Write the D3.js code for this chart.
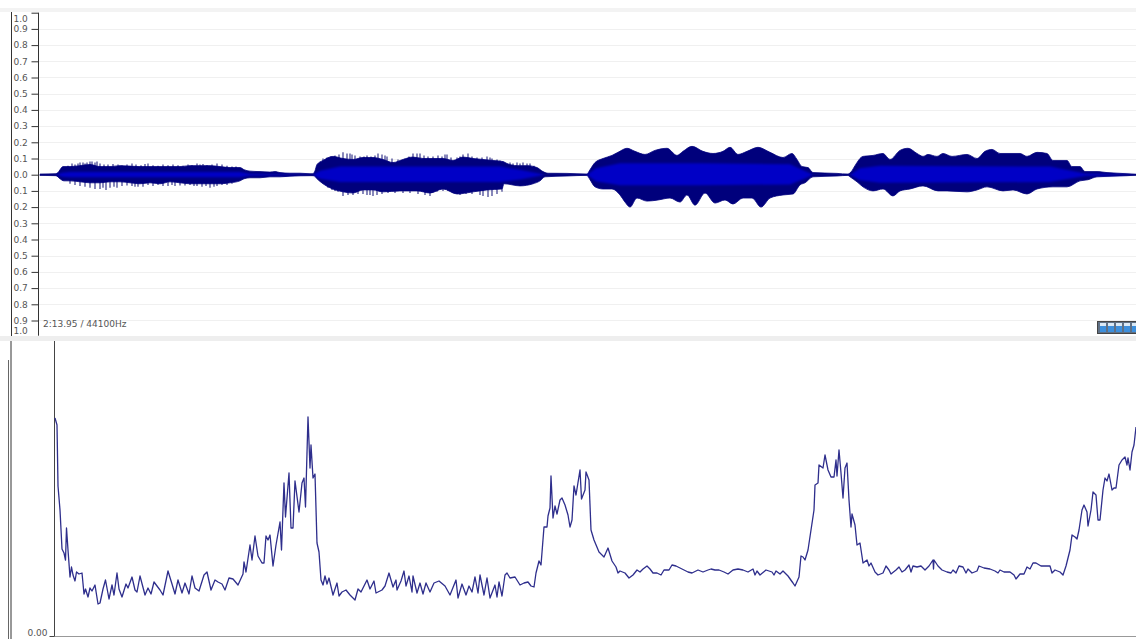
<!DOCTYPE html>
<html><head><meta charset="utf-8">
<script src="https://cdn.jsdelivr.net/npm/d3@7/dist/d3.min.js"></script>
<style>html,body{margin:0;padding:0;background:#fff;overflow:hidden}svg{display:block}text{font-family:"DejaVu Sans",sans-serif;font-size:9px;fill:#555}</style>
</head><body><svg id="c" width="1136" height="639"></svg>
<script>
const ampTicks=[1,.9,.8,.7,.6,.5,.4,.3,.2,.1,0,-.1,-.2,-.3,-.4,-.5,-.6,-.7,-.8,-.9,-1];
const durationLabel="2:13.95 / 44100Hz";
const pitchZeroLabel="0.00";
const topFrames=[40,56,58,60,63,70,80,90,100,110,120,130,140,150,160,170,180,190,200,210,220,230,240,244,250,260,270,275,280,290,300,310,313,315,317,323,333,343,353,363,373,383,393,403,413,423,433,443,453,463,473,483,493,503,507,517,527,537,543,548,567,587,590,595,603,612,618,627,635,645,655,667,677,683,692,703,713,723,730,738,747,758,770,783,792,797,802,808,813,837,848,852,855,863,873,883,890,900,908,917,923,928,937,943,952,967,977,985,992,1000,1010,1020,1027,1037,1047,1053,1067,1072,1080,1085,1097,1107,1127,1136];
const topAmp=[.004,.006,.013,.031,.05,.05,.056,.063,.05,.05,.056,.053,.05,.05,.05,.05,.05,.056,.056,.056,.05,.044,.044,.031,.022,.019,.016,.019,.013,.009,.009,.006,.006,.025,.063,.088,.113,.1,.094,.106,.106,.094,.075,.094,.109,.1,.1,.1,.088,.109,.1,.094,.088,.081,.069,.056,.056,.044,.019,.009,.008,.004,.031,.075,.1,.119,.138,.163,.144,.125,.15,.163,.119,.144,.175,.144,.131,.144,.169,.125,.144,.169,.138,.106,.131,.094,.05,.044,.013,.008,.004,.025,.056,.113,.119,.131,.094,.15,.163,.131,.113,.125,.113,.131,.113,.125,.1,.144,.156,.131,.131,.131,.113,.138,.131,.088,.088,.05,.05,.019,.019,.013,.006,.003];
const botFrames=[40,56,60,64,70,80,90,100,110,120,130,140,150,160,170,180,190,200,210,220,230,240,244,250,260,270,280,290,310,314,317,323,330,343,353,363,373,383,400,417,430,443,457,473,487,502,504,520,533,540,545,567,587,590,595,603,612,620,625,630,637,647,658,670,680,687,695,705,715,725,733,743,752,761,770,783,793,800,805,813,837,848,850,857,863,873,883,893,900,910,923,938,947,967,977,987,1003,1013,1027,1037,1053,1067,1080,1088,1097,1127,1136];
const botAmp=[-.004,-.006,-.025,-.038,-.038,-.044,-.05,-.05,-.044,-.044,-.05,-.056,-.05,-.056,-.044,-.05,-.056,-.056,-.056,-.056,-.05,-.038,-.025,-.019,-.019,-.013,-.013,-.009,-.006,-.006,-.025,-.056,-.081,-.106,-.113,-.094,-.094,-.106,-.1,-.1,-.113,-.088,-.119,-.106,-.094,-.088,-.056,-.069,-.056,-.038,-.013,-.008,-.004,-.031,-.075,-.088,-.088,-.125,-.169,-.2,-.144,-.163,-.156,-.144,-.169,-.125,-.188,-.113,-.175,-.156,-.181,-.144,-.144,-.2,-.144,-.125,-.119,-.063,-.05,-.013,-.008,-.004,-.013,-.044,-.075,-.1,-.088,-.131,-.1,-.088,-.069,-.1,-.1,-.106,-.094,-.075,-.1,-.094,-.119,-.088,-.075,-.075,-.038,-.031,-.013,-.006,-.003];
const coreFrames=[56,62,70,240,250,313,320,340,500,520,545,587,596,620,700,790,806,813,850,860,880,1050,1085,1136];
const coreTop=[0,.012,.016,.016,.006,0,.025,.05,.05,.03,0,0,.04,.07,.07,.065,.02,0,0,.04,.055,.05,.008,0];
const coreBot=[0,-.012,-.016,-.016,-.006,0,-.025,-.045,-.045,-.03,0,0,-.04,-.065,-.065,-.06,-.02,0,0,-.035,-.05,-.045,-.008,0];
const spikeUpFrames=[68,72,75,78,80,83,85,87,90,92,95,97,100,104,108,113,118,122,127,132,136,141,145,148,153,158,163,168,173,178,183,188,192,197,200,203,207,212,217,222,227,232,236,323,327,331,335,339,343,347,350,352,355,360,364,367,371,375,378,382,385,387,392,398,405,409,413,417,420,424,428,433,438,442,445,447,451,457,460,463,468,472,477,482,487,490,492,497,500,510,513,517,520,523,527,530,534];
const spikeUpAmp=[.056,.069,.063,.069,.075,.075,.069,.075,.081,.081,.075,.081,.069,.063,.063,.066,.063,.059,.063,.069,.063,.059,.066,.069,.059,.056,.063,.059,.063,.059,.056,.063,.059,.069,.063,.066,.059,.063,.069,.063,.056,.05,.05,.1,.106,.113,.119,.125,.138,.131,.131,.125,.119,.113,.113,.119,.113,.119,.131,.125,.119,.113,.1,.094,.1,.113,.131,.131,.131,.119,.113,.113,.119,.113,.125,.125,.106,.106,.113,.125,.131,.113,.106,.106,.113,.106,.1,.094,.088,.075,.069,.075,.069,.075,.069,.069,.056];
const spikeDnFrames=[70,75,80,85,90,95,100,103,106,110,114,117,122,127,132,135,138,143,148,153,158,163,168,172,175,180,185,190,194,197,202,206,210,214,217,222,227,232,328,332,335,338,343,348,353,358,363,367,370,373,377,382,388,395,403,410,418,425,430,437,443,448,453,460,466,472,480,483,488,492,497,502];
const spikeDnAmp=[-.056,-.063,-.069,-.075,-.081,-.088,-.088,-.081,-.094,-.081,-.075,-.081,-.069,-.066,-.069,-.075,-.075,-.075,-.063,-.069,-.063,-.069,-.069,-.063,-.069,-.066,-.066,-.063,-.069,-.069,-.075,-.069,-.081,-.075,-.069,-.063,-.063,-.056,-.081,-.094,-.1,-.106,-.131,-.125,-.125,-.119,-.119,-.125,-.125,-.131,-.125,-.119,-.113,-.113,-.113,-.113,-.119,-.125,-.131,-.106,-.1,-.1,-.113,-.125,-.119,-.119,-.125,-.131,-.138,-.131,-.119,-.106];
const pitchFrames=[55,57,58,60,62,64,65.5,66.5,68,70,71.5,73,75,76.5,79,82,84,85.5,88,90,92,95,98,100,103,105.5,109,112,114,117,119,122,126,128,132,135,137,140,145,148,151,154,160,163,168,172,175,178,182,185,189,192,195,199,204,207,211,215,218,222,225,229,233,238,243,244,246,250,252,255,258,262,264,266,268,270,273,276,280,281.5,284,285.5,289,291,293,295,299,302,304,305.5,308,310,311,313,315,317,319,321,323,325,327,329,333,337,339,342,346,350,355,358,361,367,370,374,376,382,385,389,393,396,397,401,404,406,409,412,413,417,420,423,426,430,434,439,445,450,456,458,462,466,469,472,475,478,480,484,487,490,495,497,499,502,505,507,510,515,520,524,528,531,534,536,539,541,544,547,548,550,551,553,555,557,560,562,565,568,570,572,574,576,580,581.5,585,586,589,591,594,599,604,608,612,616,618,620,625,629,633,637,640,643,647,650,653,657,661,664,669,672,676,680,684,688,692,698,703,708,711,715,719,724,728,733,738,743,748,753,755,757,760,766,772,774,776,780,783,788,793,795,799,801,803,805,808,811,814,815,818,819,823,825,828,831,834,836,837,839,841,843,845,847,849,851,852,855,857,860,863,867,869,871,875,878,883,886,889,891,896,899,902,905,909,911,913,917,921,925,929,933,933.5,934,938,942,947,951,953,956,959,963,966,968,972,977,979,984,990,995,998,1000,1004,1010,1014,1016,1020,1024,1027,1030,1033,1036,1041,1046,1050,1052,1055,1060,1063,1066,1070,1072,1075,1077,1079,1082,1084,1087,1088,1091,1093,1096,1098,1100,1103,1105,1107,1109,1112,1114,1116,1119,1122,1125,1127,1128,1130,1132,1134,1136];
const pitchLevel=[218,211,150,126,87,83,76,108,86,59,69,61,55,64,62,63,42,47,39,48,45,51,32,33,47,56,37,51,41,63,47,39,52,48,59,46,44,60,41,48,42,54,46,41,65,52,42,56,43,53,42,60,48,45,61,64,46,56,54,52,46,58,57,51,62,74,64,91,76,100,80,73,73,100,96,101,70,91,114,86,153,119,163,108,108,155,124,153,158,129,219,168,191,158,162,93,84,56,51,60,52,58,41,53,40,44,46,41,36,47,44,56,47,55,43,46,50,63,49,56,46,55,65,50,60,44,60,43,53,42,53,44,53,55,50,41,56,38,52,41,50,44,59,43,61,41,58,38,51,39,54,40,61,63,58,59,51,53,54,50,49,63,75,71,109,109,120,128,160,118,130,122,136,138,131,121,109,116,150,141,166,137,146,164,156,106,96,84,79,88,75,69,63,65,63,58,61,66,64,67,70,67,63,63,61,66,66,71,70,68,66,64,63,66,64,66,67,66,66,64,62,66,67,66,64,67,61,65,61,66,64,61,65,62,65,60,53,50,59,80,79,76,86,106,126,151,153,171,168,181,166,159,159,176,160,186,163,138,168,173,136,109,122,111,91,93,73,76,70,73,64,61,63,70,66,62,66,69,64,66,71,64,70,69,70,66,70,76,67,76,70,66,64,63,66,63,70,69,63,67,63,65,70,68,67,65,63,66,64,64,61,57,62,62,69,67,73,73,70,70,70,63,66,64,61,70,86,101,99,97,106,126,131,124,110,126,144,141,116,116,146,158,155,162,146,148,148,171,176,179,171,178,166,184,191,209];

const svg=d3.select("#c");
const defs=svg.append("defs");
defs.append("filter").attr("id","soft").append("feGaussianBlur").attr("stdDeviation",0.4);
defs.append("filter").attr("id","softer").append("feGaussianBlur").attr("stdDeviation",1.1);

const xWave=d3.scaleLinear().domain([40,1136]).range([40,1136]);
const yAmp=d3.scaleLinear().domain([-1,1]).range([336.7,12.7]);
const xPitch=d3.scaleLinear().domain([55,1136]).range([55,1136]);
const yPitch=d3.scaleLinear().domain([0,296]).range([636,340]);

svg.append("rect").attr("x",0).attr("y",8).attr("width",1136).attr("height",4).attr("fill","#f3f3f3");
svg.append("rect").attr("x",0).attr("y",336).attr("width",1136).attr("height",5).attr("fill","#eeeeee");

svg.append("g").selectAll("line").data(ampTicks.filter(d=>Math.abs(d)<1)).join("line")
 .attr("x1",39).attr("x2",1136).attr("y1",d=>Math.round(yAmp(d))+.5).attr("y2",d=>Math.round(yAmp(d))+.5)
 .attr("stroke",d=>d===0?"#cfcfdc":"#f0f0f0");

const waveG=svg.append("g").attr("filter","url(#soft)");
const spikeColor="#3a3a8c";
waveG.append("g").selectAll("line").data(spikeUpFrames.map((f,i)=>[f,spikeUpAmp[i]])).join("line")
 .attr("x1",d=>xWave(d[0])).attr("x2",d=>xWave(d[0])).attr("y1",yAmp(0)).attr("y2",d=>yAmp(d[1])).attr("stroke",spikeColor).attr("stroke-width",1.2);
waveG.append("g").selectAll("line").data(spikeDnFrames.map((f,i)=>[f,spikeDnAmp[i]])).join("line")
 .attr("x1",d=>xWave(d[0])).attr("x2",d=>xWave(d[0])).attr("y1",yAmp(0)).attr("y2",d=>yAmp(d[1])).attr("stroke",spikeColor).attr("stroke-width",1.2);
const lobe=d3.area().curve(d3.curveMonotoneX).x(d=>xWave(d[0])).y0(yAmp(0)).y1(d=>yAmp(d[1]));
waveG.append("path").attr("d",lobe(topFrames.map((f,i)=>[f,topAmp[i]]))).attr("fill","#00007c").attr("stroke","#00007c").attr("stroke-width",.8);
waveG.append("path").attr("d",lobe(botFrames.map((f,i)=>[f,botAmp[i]]))).attr("fill","#00007c").attr("stroke","#00007c").attr("stroke-width",.8);
const core=d3.area().x((d,i)=>xWave(coreFrames[i])).y0(d=>yAmp(d[1])).y1(d=>yAmp(d[0]));
svg.append("path").attr("filter","url(#softer)").attr("d",core(coreFrames.map((f,i)=>[coreTop[i],coreBot[i]]))).attr("fill","#0000c6");

const ampAxis=d3.axisLeft(yAmp).tickValues(ampTicks).tickSize(7).tickPadding(0).tickFormat(d=>Math.abs(d).toFixed(1));
const ag=svg.append("g").attr("transform","translate(38.5,0)").call(ampAxis);
ag.select(".domain").attr("d",`M0,${yAmp(1)}V${yAmp(-1)-1}`).attr("stroke","#333");
ag.selectAll(".tick line").attr("stroke","#333").attr("opacity",d=>d===-1?0:1);
ag.selectAll(".tick text").attr("text-anchor","start").attr("x",-25).style("fill","#555").style("font-size","9px").style("font-family",'"DejaVu Sans",sans-serif')
 .attr("y",d=>d===1?5.5:d===-1?-6.5:0);
ag.attr("font-size",null).attr("font-family",null);
svg.append("line").attr("x1",11.5).attr("x2",11.5).attr("y1",12).attr("y2",336).attr("stroke","#333");
svg.append("text").attr("x",43).attr("y",327).text(durationLabel);

const wid=svg.append("g");
wid.append("rect").attr("x",1097.5).attr("y",321.5).attr("width",40).attr("height",12).attr("fill","#5f6f85").attr("stroke","#444");
wid.selectAll("rect.cell").data(d3.range(5)).join("rect").attr("class","cell")
 .attr("x",i=>1100+i*8).attr("y",323).attr("width",6).attr("height",9).attr("fill","#3c8fdc");
wid.selectAll("rect.top").data(d3.range(5)).join("rect").attr("class","top")
 .attr("x",i=>1100+i*8).attr("y",323).attr("width",6).attr("height",3).attr("fill","#dbe9f5");
wid.attr("filter","url(#soft)");

svg.append("line").attr("x1",8.5).attr("x2",8.5).attr("y1",360).attr("y2",639).attr("stroke","#666");
svg.append("line").attr("x1",11).attr("x2",11).attr("y1",341).attr("y2",639).attr("stroke","#333");
const xAxisP=d3.axisBottom(xPitch).tickValues([]).tickSize(0);
svg.append("g").attr("transform","translate(0,636.5)").call(xAxisP).select(".domain").attr("d","M54,0H1136").attr("stroke","#999");
const yAxisP=d3.axisLeft(yPitch).tickValues([0]).tickSize(5).tickPadding(2).tickFormat(()=>pitchZeroLabel);
const pg=svg.append("g").attr("transform","translate(54.5,0)").call(yAxisP);
pg.select(".domain").attr("d","M0,341V636").attr("stroke","#444");
pg.selectAll(".tick line").attr("stroke","#444");
pg.selectAll(".tick text").style("fill","#555").style("font-size","9px").style("font-family",'"DejaVu Sans",sans-serif').attr("dy","-.1em");
pg.attr("font-size",null).attr("font-family",null);

const line=d3.line().x(d=>xPitch(d[0])).y(d=>yPitch(d[1]));
svg.append("path").attr("d",line(pitchFrames.map((f,i)=>[f,pitchLevel[i]])))
 .attr("fill","none").attr("stroke","#2e2e8c").attr("stroke-width",1.3).attr("stroke-linejoin","round").attr("filter","url(#soft)");
</script></body></html>
